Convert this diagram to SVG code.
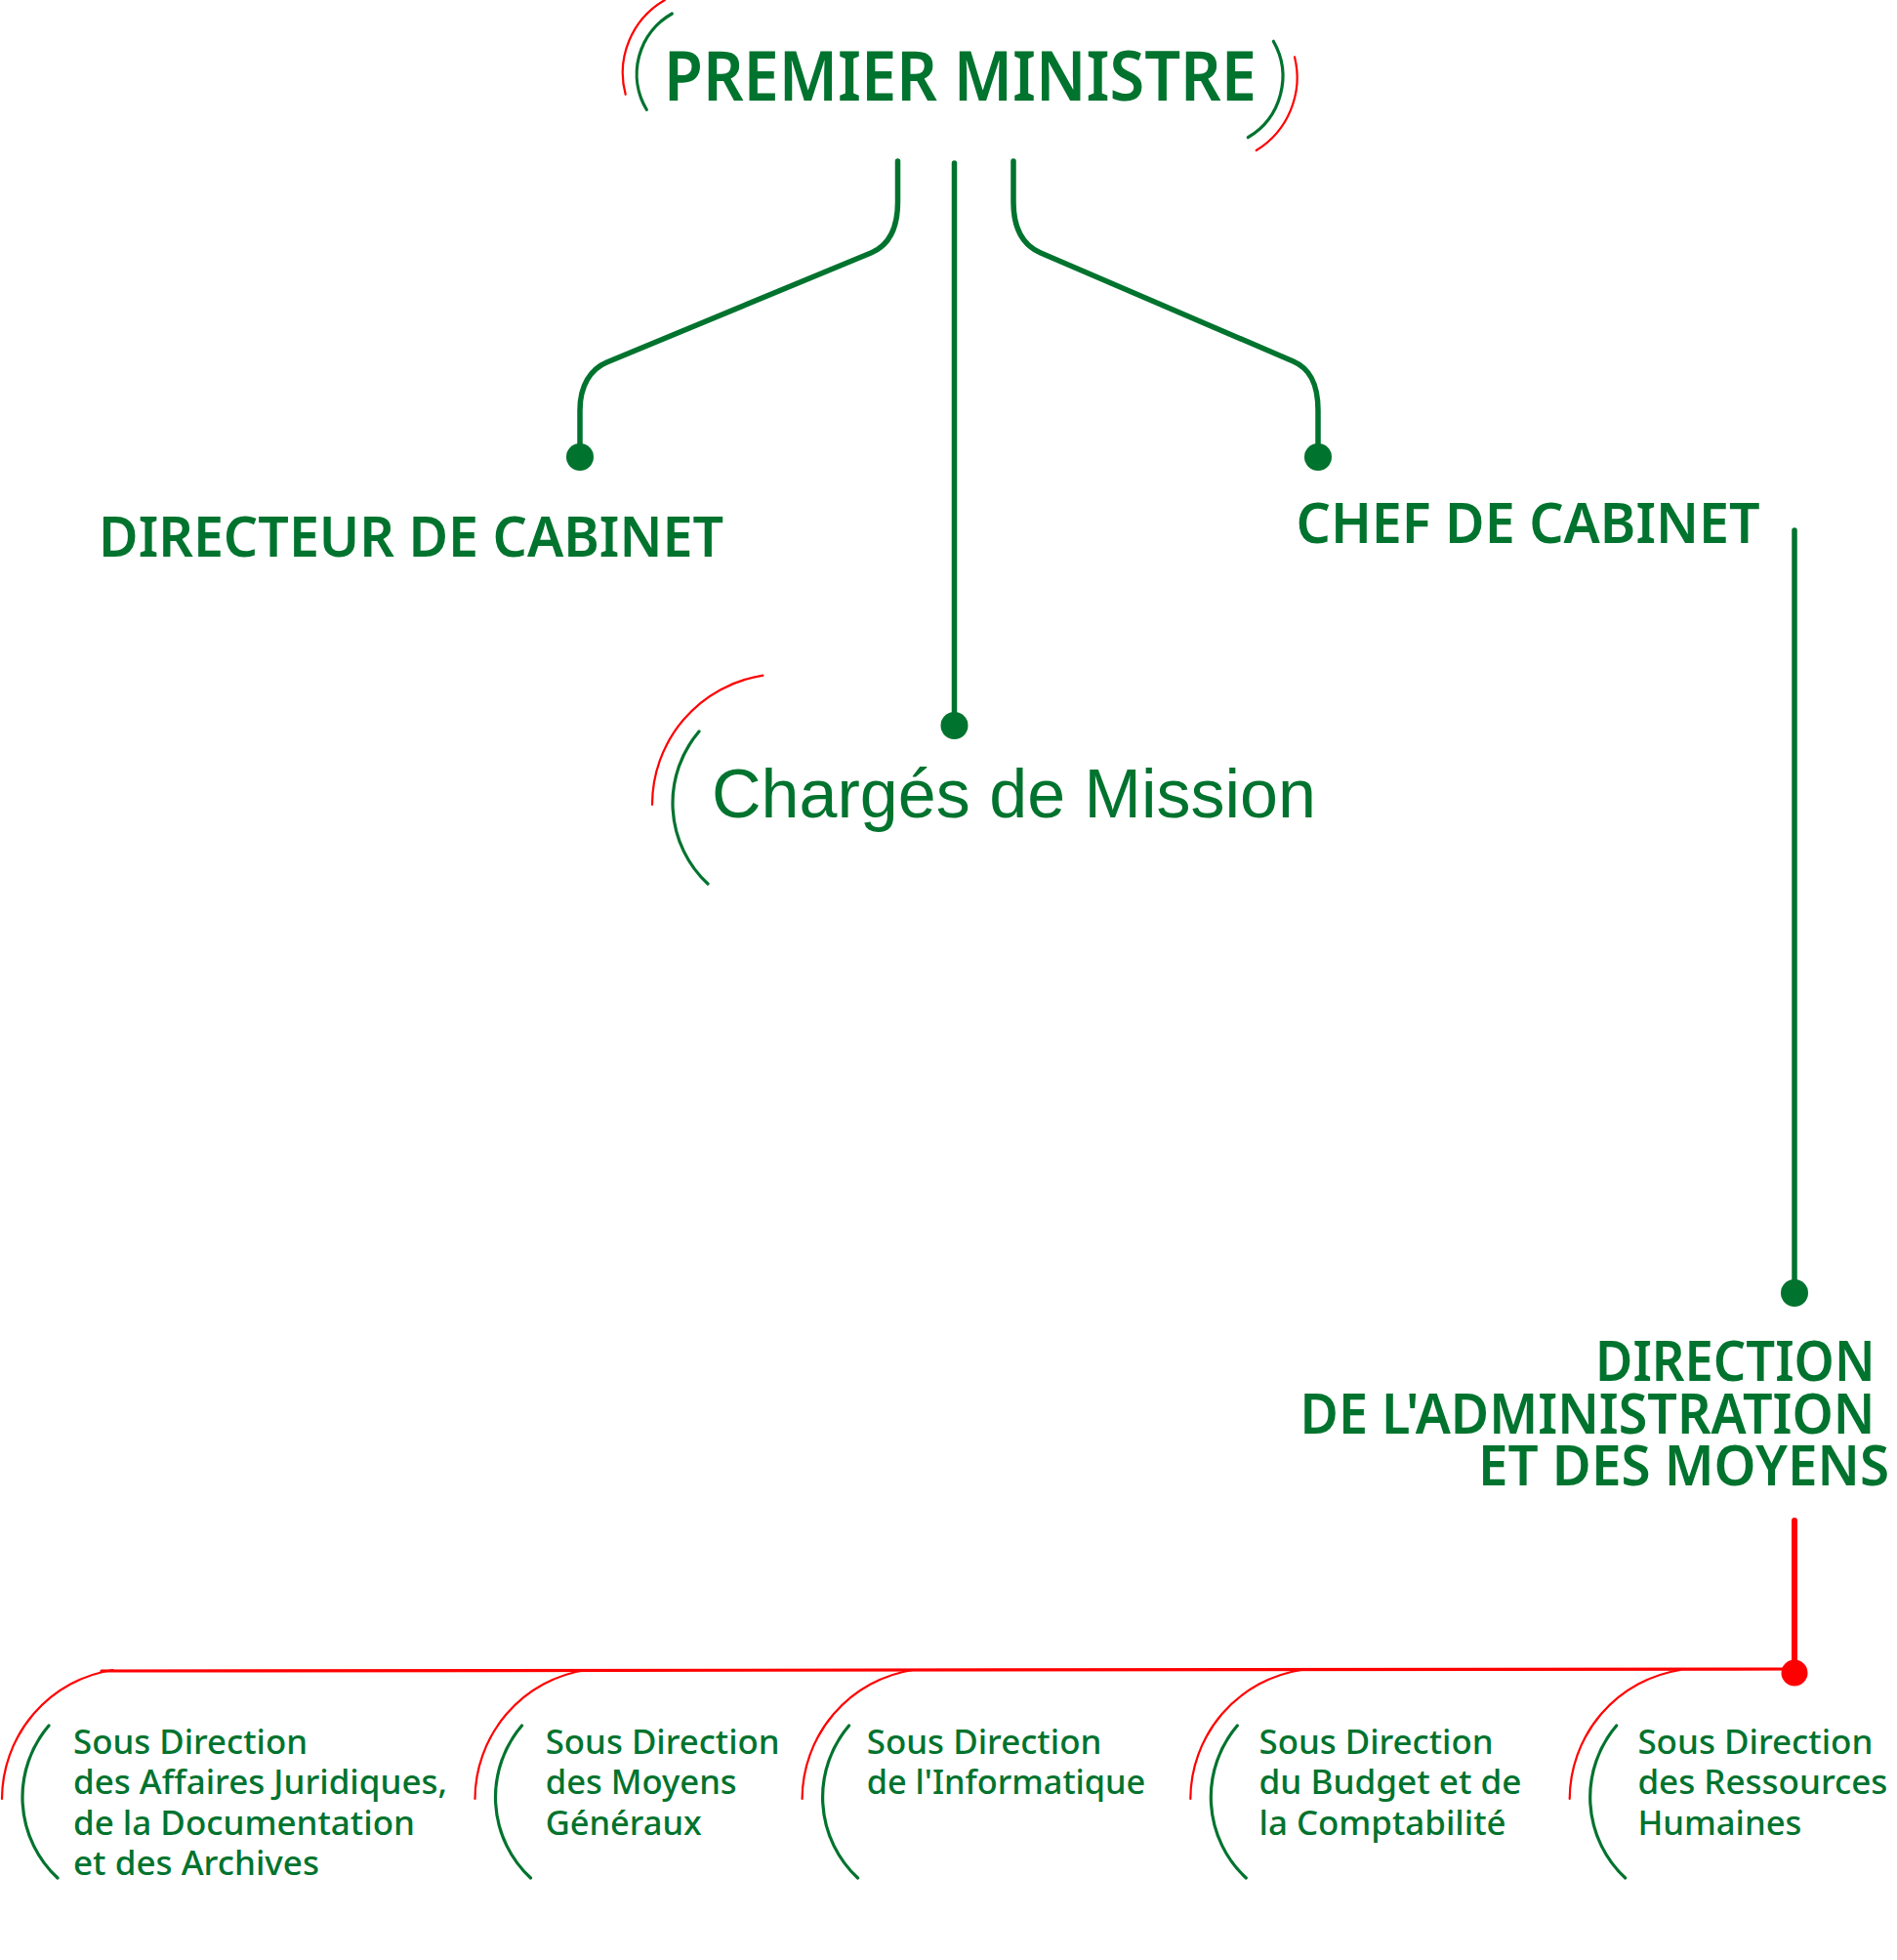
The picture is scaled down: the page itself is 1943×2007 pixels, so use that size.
<svg xmlns="http://www.w3.org/2000/svg" width="1943" height="2007" viewBox="0 0 1943 2007">
<style>
.h{font-family:"Noto Sans","Liberation Sans",sans-serif;font-weight:600;fill:#00732E}
.s{font-family:"Noto Sans","Liberation Sans",sans-serif;font-weight:500;font-size:35px;fill:#00732E}
.r{font-family:"Liberation Sans",Arial,sans-serif;font-weight:400;fill:#00732E}
.g{fill:none;stroke:#00732E;stroke-width:5.5;stroke-linecap:round;stroke-linejoin:round}
.rl{fill:none;stroke:#FF0000;stroke-linecap:round}
.ga{fill:none;stroke:#00732E;stroke-width:3.2;stroke-linecap:round}
.ra{fill:none;stroke:#FF0000;stroke-width:2.2;stroke-linecap:round}
.dg{fill:#00732E}
.dr{fill:#FF0000}
</style>
<rect width="1943" height="2007" fill="#ffffff"/>
<g id="connectors">
<path class="g" d="M919.5,165 V207 C919.5,235 910.5,251.3 892,259 L621.5,371 C604.9,377.9 594,395 594,420 V468"/>
<path class="g" d="M1038,165 V207 C1038,235 1047.6,251.1 1066,259 L1324.6,370 C1341.1,377.1 1350,392 1350,420 V468"/>
<path class="g" d="M977.5,167 V743"/>
<path class="g" d="M1838,543 V1324"/>
<circle class="dg" cx="594" cy="468" r="14"/>
<circle class="dg" cx="1350" cy="468" r="14"/>
<circle class="dg" cx="977.5" cy="743" r="14"/>
<circle class="dg" cx="1838" cy="1324" r="14"/>
<path class="rl" stroke-width="6" d="M1838,1557 V1713"/>
<path class="rl" stroke-width="3.2" d="M104,1711 L1838,1709"/>
<circle class="dr" cx="1838" cy="1713" r="13.5"/>
</g>
<g id="node-premier-ministre">
<path class="ra" d="M681,0 A86,86 0 0 0 640.7,96.7"/>
<path class="ga" d="M688.3,14 A71,71 0 0 0 662.3,112.3"/>
<path class="ga" d="M1304.3,42.3 A72.5,72.5 0 0 1 1278.3,140.7"/>
<path class="ra" d="M1326,58.3 A87.5,87.5 0 0 1 1286.7,154"/>
<text class="h" x="680" y="103" font-size="71" textLength="607" lengthAdjust="spacingAndGlyphs">PREMIER MINISTRE</text>
</g>
<g id="node-directeur-de-cabinet">
<text class="h" x="101" y="570" font-size="58.5" textLength="640" lengthAdjust="spacingAndGlyphs">DIRECTEUR DE CABINET</text>
</g>
<g id="node-chef-de-cabinet">
<text class="h" x="1327.5" y="556" font-size="58" textLength="475" lengthAdjust="spacingAndGlyphs">CHEF DE CABINET</text>
</g>
<g id="node-charges-de-mission">
<path class="ra" d="M781.4,691.6 A134,134 0 0 0 668,824"/>
<path class="ga" d="M716,749 A113,113 0 0 0 725,905"/>
<text class="r" x="729" y="837" font-size="71" textLength="619" lengthAdjust="spacingAndGlyphs">Chargés de Mission</text>
</g>
<g id="node-direction-administration-moyens">
<text class="h" x="1920.5" y="1413.6" font-size="57.5" text-anchor="end" textLength="286.5" lengthAdjust="spacingAndGlyphs">DIRECTION</text>
<text class="h" x="1920.5" y="1467.7" font-size="57.5" text-anchor="end" textLength="589" lengthAdjust="spacingAndGlyphs">DE L'ADMINISTRATION</text>
<text class="h" x="1935" y="1521.4" font-size="57.5" text-anchor="end" textLength="421" lengthAdjust="spacingAndGlyphs">ET DES MOYENS</text>
</g>
<g id="node-sd-affaires-juridiques">
<path class="ra" d="M115.4,1710 A134,134 0 0 0 2,1842"/>
<path class="ga" d="M50,1767 A113,113 0 0 0 59,1923"/>
<text class="s" x="75" y="1795.5" textLength="240" lengthAdjust="spacingAndGlyphs">Sous Direction</text>
<text class="s" x="75" y="1836.7" textLength="383" lengthAdjust="spacingAndGlyphs">des Affaires Juridiques,</text>
<text class="s" x="75" y="1879" textLength="350" lengthAdjust="spacingAndGlyphs">de la Documentation</text>
<text class="s" x="75" y="1919.5" textLength="252" lengthAdjust="spacingAndGlyphs">et des Archives</text>
</g>
<g id="node-sd-moyens-generaux">
<path class="ra" d="M599.9,1710 A134,134 0 0 0 486.5,1842"/>
<path class="ga" d="M534.5,1767 A113,113 0 0 0 543.5,1923"/>
<text class="s" x="558.7" y="1795.5" textLength="240" lengthAdjust="spacingAndGlyphs">Sous Direction</text>
<text class="s" x="558.7" y="1836.7" textLength="196" lengthAdjust="spacingAndGlyphs">des Moyens</text>
<text class="s" x="558.7" y="1879" textLength="160" lengthAdjust="spacingAndGlyphs">Généraux</text>
</g>
<g id="node-sd-informatique">
<path class="ra" d="M935,1710 A134,134 0 0 0 821.6,1842"/>
<path class="ga" d="M869.6,1767 A113,113 0 0 0 878.6,1923"/>
<text class="s" x="887.7" y="1795.5" textLength="240.7" lengthAdjust="spacingAndGlyphs">Sous Direction</text>
<text class="s" x="887.7" y="1836.7" textLength="285.6" lengthAdjust="spacingAndGlyphs">de l'Informatique</text>
</g>
<g id="node-sd-budget-comptabilite">
<path class="ra" d="M1332.7,1710 A134,134 0 0 0 1219.3,1842"/>
<path class="ga" d="M1267.3,1767 A113,113 0 0 0 1276.3,1923"/>
<text class="s" x="1289.5" y="1795.5" textLength="240" lengthAdjust="spacingAndGlyphs">Sous Direction</text>
<text class="s" x="1289.5" y="1836.7" textLength="269" lengthAdjust="spacingAndGlyphs">du Budget et de</text>
<text class="s" x="1289.5" y="1879" textLength="253" lengthAdjust="spacingAndGlyphs">la Comptabilité</text>
</g>
<g id="node-sd-ressources-humaines">
<path class="ra" d="M1721.1,1710 A134,134 0 0 0 1607.7,1842"/>
<path class="ga" d="M1655.7,1767 A113,113 0 0 0 1664.7,1923"/>
<text class="s" x="1677.4" y="1795.5" textLength="241" lengthAdjust="spacingAndGlyphs">Sous Direction</text>
<text class="s" x="1677.4" y="1836.7" textLength="256" lengthAdjust="spacingAndGlyphs">des Ressources</text>
<text class="s" x="1677.4" y="1879" textLength="168" lengthAdjust="spacingAndGlyphs">Humaines</text>
</g>
</svg>
